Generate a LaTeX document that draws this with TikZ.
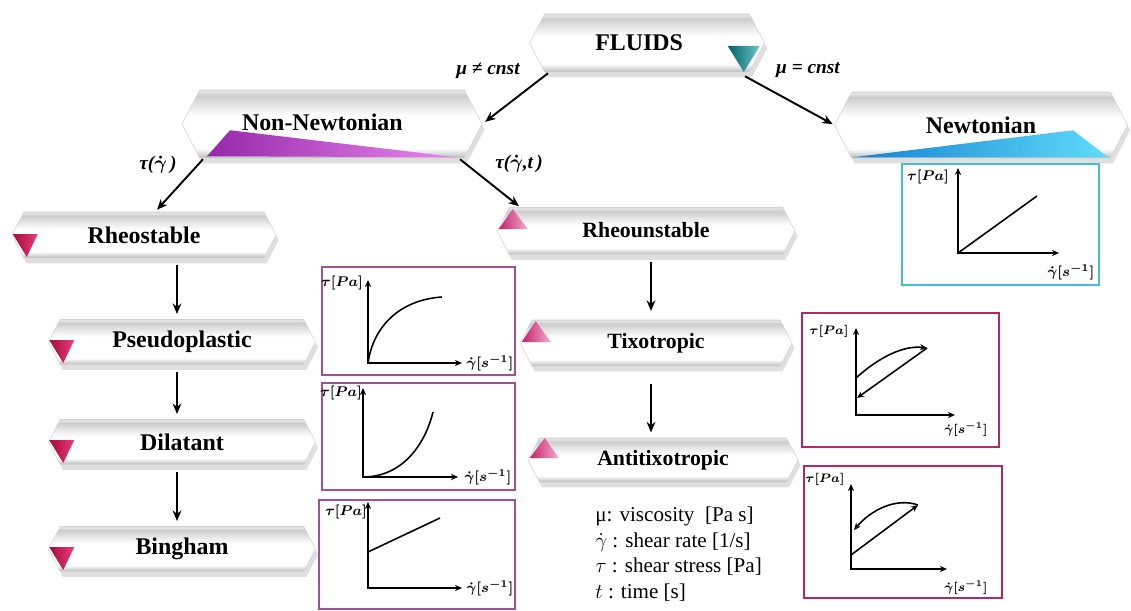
\documentclass[tikz,border=0pt]{standalone}
\usepackage{amsmath}
\usepackage{fontspec}
\setmainfont{Liberation Serif}
\usetikzlibrary{shapes.symbols,shadows,arrows.meta,calc}

\definecolor{tealdark}{RGB}{0,95,105}
\definecolor{teallight}{RGB}{110,200,200}
\definecolor{purpdark}{RGB}{150,40,170}
\definecolor{purplight}{RGB}{235,135,240}
\definecolor{bluedark}{RGB}{20,130,210}
\definecolor{bluelight}{RGB}{95,220,250}
\definecolor{reddark}{RGB}{165,10,60}
\definecolor{redlight}{RGB}{235,60,120}
\definecolor{pinkdark}{RGB}{195,35,105}
\definecolor{pinklight}{RGB}{245,170,205}
\definecolor{boxpurple}{RGB}{165,80,150}
\definecolor{boxcrimson}{RGB}{180,40,100}
\definecolor{boxcyan}{RGB}{70,190,210}

\pgfdeclareverticalshading{bannershade}{100bp}{color(0bp)=(gray!55); color(25bp)=(gray!55); color(28bp)=(gray!30); color(32bp)=(white); color(56bp)=(white); color(64bp)=(gray!20); color(71bp)=(gray!40); color(74bp)=(gray!20); color(75bp)=(gray!30); color(100bp)=(gray!30)}

\newcommand{\bannerfont}{\fontsize{13.6}{16}\selectfont\bfseries}
\newcommand{\smallbannerfont}{\fontsize{12.4}{15}\selectfont\bfseries}

\begin{document}
\begin{tikzpicture}[x=0.02cm, y=-0.02cm,
  banner/.style={signal, signal to=west and east, signal pointer angle=125,
    shade, shading=bannershade, draw=gray!35, line width=0.3pt, inner sep=0pt,
    font=\bannerfont,
    drop shadow={shadow xshift=1.5pt, shadow yshift=-3pt, opacity=0.25}},
  conn/.style={-{Stealth[length=6pt,width=5pt]}, line width=1.1pt},
  vconn/.style={conn, shorten <=4pt, shorten >=3pt},
  lbl/.style={font=\fontsize{11}{13}\selectfont\bfseries\itshape},
  axisline/.style={{Stealth[length=4pt,width=3.5pt]}-{Stealth[length=4pt,width=3.5pt]}, line width=0.9pt},
  plotline/.style={line width=0.9pt},
  plotarrow/.style={-{Stealth[length=4pt,width=3.5pt]}, line width=0.9pt},
  axlabel/.style={font=\fontsize{8}{9}\selectfont, inner sep=1pt},
  smallaxlabel/.style={font=\fontsize{7}{8}\selectfont, inner sep=1pt},
  keytext/.style={font=\fontsize{12}{14.5}\selectfont, align=left, inner sep=0pt}]

  \useasboundingbox (0,0) rectangle (1131,611);

  % Banners
  \node[banner, minimum width=4.7cm, minimum height=1.16cm] (fluids) at (647,43) {FLUIDS\kern9pt};
  \node[banner, minimum width=6cm, minimum height=1.36cm] (nonnewt) at (332,124) {\raisebox{2pt}{Non-Newtonian}\kern11pt};
  \node[banner, minimum width=5.86cm, minimum height=1.32cm] (newton) at (981,125) {Newtonian};
  \node[banner, minimum width=5.28cm, minimum height=0.92cm] (rheostable) at (144,235) {Rheostable};
  \node[banner, minimum width=5.96cm, minimum height=0.94cm, font=\smallbannerfont] (rheoun) at (646,231) {\raisebox{1.5pt}{Rheounstable}};
  \node[banner, minimum width=5.34cm, minimum height=0.9cm] (pseudo) at (182,342) {Pseudoplastic};
  \node[banner, minimum width=5.34cm, minimum height=0.9cm] (dilatant) at (182,442) {Dilatant};
  \node[banner, minimum width=5.34cm, minimum height=0.9cm] (bingham) at (182,549) {Bingham};
  \node[banner, minimum width=5.44cm, minimum height=0.92cm, font=\smallbannerfont] (tixo) at (656,343) {Tixotropic};
  \node[banner, minimum width=5.4cm, minimum height=0.88cm, font=\smallbannerfont] (antitixo) at (663,460) {Antitixotropic};

  % Coloured triangles
  \shade[left color=tealdark, right color=teallight] ($(fluids.east)+(-37,3)$) -- ($(fluids.east)+(-5,3)$) -- ($(fluids.east)+(-21,29)$) -- cycle;
  \shade[left color=purpdark, right color=purplight] ($(nonnewt.south)+(-125,-2)$) -- ($(nonnewt.south)+(-102,-28)$) -- ($(nonnewt.south)+(125,-1)$) -- cycle;
  \shade[left color=bluedark, right color=bluelight] ($(newton.south)+(-128,-1)$) -- ($(newton.south)+(92,-28)$) -- ($(newton.south)+(127,-1)$) -- cycle;

  \shade[left color=reddark, right color=redlight] ($(rheostable.west)+(1,-1)$) -- ($(rheostable.west)+(26,-1)$) -- ($(rheostable.west)+(15,22)$) -- cycle;
  \shade[left color=reddark, right color=redlight] ($(pseudo.west)+(1,-2)$) -- ($(pseudo.west)+(26,-2)$) -- ($(pseudo.west)+(15,21)$) -- cycle;
  \shade[left color=reddark, right color=redlight] ($(dilatant.west)+(1,-2)$) -- ($(dilatant.west)+(26,-2)$) -- ($(dilatant.west)+(15,21)$) -- cycle;
  \shade[left color=reddark, right color=redlight] ($(bingham.west)+(1,-2)$) -- ($(bingham.west)+(26,-2)$) -- ($(bingham.west)+(15,21)$) -- cycle;

  \shade[left color=pinkdark, right color=pinklight] ($(rheoun.west)+(2,-2)$) -- ($(rheoun.west)+(31,-2)$) -- ($(rheoun.west)+(16,-22)$) -- cycle;
  \shade[left color=pinkdark, right color=pinklight] ($(tixo.west)+(2,-1)$) -- ($(tixo.west)+(31,-1)$) -- ($(tixo.west)+(16,-22)$) -- cycle;
  \shade[left color=pinkdark, right color=pinklight] ($(antitixo.west)+(2,-2)$) -- ($(antitixo.west)+(31,-2)$) -- ($(antitixo.west)+(17,-22)$) -- cycle;

  % Draw edges
  \coordinate (lcol) at (177,0);
  \coordinate (rcol) at (651,0);

  \draw[conn, shorten >=2pt] ($(fluids.south)+(-99,1)$) -- (nonnewt.east);
  \draw[conn, shorten >=1pt] ($(fluids.south)+(98,4)$) -- (newton.west);
  \draw[conn] ($(nonnewt.south)+(-129,1)$) -- ($(rheostable.north)+(13,-2)$);
  \draw[conn] ($(nonnewt.south)+(128,1)$) -- ($(rheoun.north)+(-127,-1)$);

  \draw[vconn] (rheostable.south -| lcol) -- (pseudo.north -| lcol);
  \draw[vconn] (pseudo.south -| lcol) -- (dilatant.north -| lcol);
  \draw[vconn] (dilatant.south -| lcol) -- (bingham.north -| lcol);
  \draw[vconn, shorten >=5pt] (rheoun.south -| rcol) -- (tixo.north -| rcol);
  \draw[vconn, shorten <=10pt] (tixo.south -| rcol) -- (antitixo.north -| rcol);

  % Edge labels
  \node[lbl] (mune) at (488,71) {μ ≠ cnst};
  \node[lbl] (mueq) at (808,70) {μ = cnst};
  \node[lbl] (tgam) at (158,165) {τ($\boldsymbol{\dot{\gamma}}$\,)};
  \node[lbl] (tgamt) at (519,164) {τ($\boldsymbol{\dot{\gamma}}$,t\,)};

  % Newtonian graph
  \draw[boxcyan, line width=1.2pt] (902,164) rectangle (1099,285);
  \draw[axisline] (958,168) |- (1059,253);
  \draw[plotline] (958,253) -- (1037,196);
  \node[axlabel] (newtau) at (928,177) {$\boldsymbol{\tau[Pa]}$};
  \node[axlabel] (newgam) at (1071,272) {$\boldsymbol{\dot{\gamma}[s^{-1}]}$};

  % Pseudoplastic graph
  \draw[boxpurple, line width=0.7pt] (322,267) rectangle (515,375);
  \draw[axisline] (368,280) |- (462,363);
  \draw[plotline] (368,363) .. controls (373,328) and (398,300) .. (442,297);
  \node[axlabel] (pstau) at (342,283) {$\boldsymbol{\tau[Pa]}$};
  \node[axlabel] (psgam) at (490,363) {$\boldsymbol{\dot{\gamma}[s^{-1}]}$};

  % Dilatant graph
  \draw[boxpurple, line width=0.7pt] (322,383) rectangle (515,490);
  \draw[axisline] (363,388) |- (458,477);
  \draw[plotline] (363,477) .. controls (400,477) and (424,448) .. (433,412);
  \node[axlabel] (ditau) at (341,393) {$\boldsymbol{\tau[Pa]}$};
  \node[axlabel] (digam) at (488,477) {$\boldsymbol{\dot{\gamma}[s^{-1}]}$};

  % Bingham graph
  \draw[boxpurple, line width=0.7pt] (319,500) rectangle (515,609);
  \draw[axisline] (368,502) |- (462,588);
  \draw[plotline] (368,552) -- (440,518);
  \node[axlabel] (bitau) at (346,512) {$\boldsymbol{\tau[Pa]}$};
  \node[axlabel] (bigam) at (490,588) {$\boldsymbol{\dot{\gamma}[s^{-1}]}$};

  % Tixotropic graph
  \draw[boxcrimson, line width=1.2pt] (802,313) rectangle (999,447);
  \draw[axisline] (856,328) |- (955,415);
  \draw[plotarrow] (856,378) .. controls (878,358) and (903,345) .. (927,348);
  \draw[plotarrow] (927,348) -- (857,398);
  \node[smallaxlabel] (titau) at (829,331) {$\boldsymbol{\tau[Pa]}$};
  \node[smallaxlabel] (tigam) at (966,429) {$\boldsymbol{\dot{\gamma}[s^{-1}]}$};

  % Antitixotropic graph
  \draw[boxcrimson, line width=1.2pt] (804,466) rectangle (1002,598);
  \draw[axisline] (851,484) |- (947,569);
  \draw[plotarrow] (851,555) -- (918,505);
  \draw[plotarrow] (918,505) .. controls (895,497) and (870,511) .. (854,530);
  \node[smallaxlabel] (attau) at (825,479) {$\boldsymbol{\tau[Pa]}$};
  \node[smallaxlabel] (atgam) at (966,587) {$\boldsymbol{\dot{\gamma}[s^{-1}]}$};

  % Key
  \node[keytext, anchor=north west] (key) at (595,507) {μ: viscosity~ [Pa s]\\
    $\dot{\gamma}$ : shear rate [1/s]\\
    $\tau$ : shear stress [Pa]\\
    $t$ : time [s]};

\end{tikzpicture}
\end{document}
